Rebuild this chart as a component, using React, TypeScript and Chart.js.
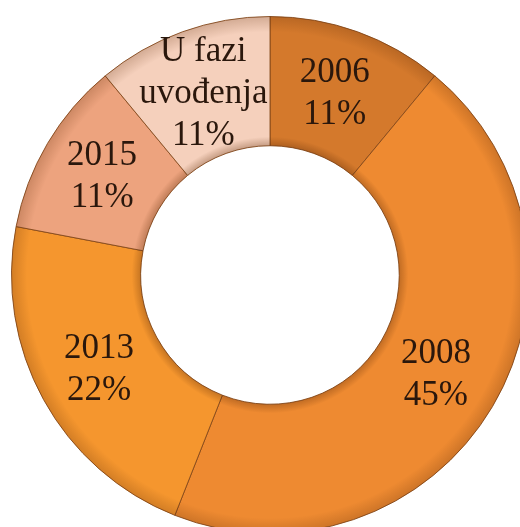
import React, { useEffect, useRef } from "react";
import { Chart, registerables } from "chart.js";

Chart.register(...registerables);

const categories = ["2006", "2008", "2013", "2015", "U fazi uvođenja"];
const percents = [11, 45, 22, 11, 11];
const sliceColors = ["#D4792C", "#EE8A31", "#F5962E", "#EDA37E", "#F5D0BC"];

function wrapLabel(s: string): string[] {
  const i = s.lastIndexOf(" ");
  return i > 0 ? [s.slice(0, i), s.slice(i + 1)] : [s];
}

const shadePlugin = {
  id: "shade",
  afterDatasetsDraw(chart: any) {
    const meta = chart.getDatasetMeta(0);
    const a0 = meta.data[0];
    if (!a0) return;
    const { x, y, innerRadius, outerRadius } = a0.getProps(["x", "y", "innerRadius", "outerRadius"], true);
    const ctx = chart.ctx;
    ctx.save();
    const g = ctx.createRadialGradient(x, y, innerRadius, x, y, outerRadius);
    g.addColorStop(0, "rgba(90,40,5,0.30)");
    g.addColorStop(0.07, "rgba(90,40,5,0.0)");
    g.addColorStop(0.88, "rgba(90,40,5,0.0)");
    g.addColorStop(1, "rgba(90,40,5,0.22)");
    ctx.beginPath();
    ctx.arc(x, y, outerRadius, 0, Math.PI * 2);
    ctx.arc(x, y, innerRadius, 0, Math.PI * 2, true);
    ctx.fillStyle = g;
    ctx.fill();
    ctx.restore();
  },
};

const labelPlugin = {
  id: "sliceLabels",
  afterDatasetsDraw(chart: any) {
    const meta = chart.getDatasetMeta(0);
    const ctx = chart.ctx;
    const data = chart.data.datasets[0].data as number[];
    const labels = chart.data.labels as string[];
    ctx.save();
    ctx.font = '35px "Liberation Serif", "Times New Roman", serif';
    ctx.fillStyle = "#2A170C";
    ctx.textAlign = "center";
    ctx.textBaseline = "middle";
    const lh = 42;
    meta.data.forEach((arc: any, i: number) => {
      const p = arc.tooltipPosition(true);
      const lines = [...wrapLabel(labels[i]), data[i] + "%"];
      const start = p.y + 1 - ((lines.length - 1) * lh) / 2;
      lines.forEach((t, j) => ctx.fillText(t, p.x - 1, start + j * lh));
    });
    ctx.restore();
  },
};

export default function App() {
  const ref = useRef<HTMLCanvasElement>(null);
  useEffect(() => {
    if (!ref.current) return;
    const chart = new Chart(ref.current, {
      type: "doughnut",
      data: {
        labels: categories,
        datasets: [
          {
            data: percents,
            backgroundColor: sliceColors,
            borderColor: "rgba(130,70,25,0.85)",
            borderWidth: 1,
          },
        ],
      },
      options: {
        responsive: false,
        animation: false,
        cutout: "50%",
        rotation: 0,
        layout: { padding: 0 },
        plugins: {
          legend: { display: false },
          tooltip: { enabled: false },
        },
      },
      plugins: [shadePlugin, labelPlugin],
    });
    return () => chart.destroy();
  }, []);
  return (
    <div
      style={{
        position: "fixed",
        left: 0,
        top: 0,
        width: 520,
        height: 527,
        overflow: "hidden",
        background: "#fff",
      }}
    >
      <canvas
        ref={ref}
        width={518}
        height={518}
        style={{ position: "absolute", left: 11, top: 16, width: 518, height: 518 }}
      />
    </div>
  );
}
